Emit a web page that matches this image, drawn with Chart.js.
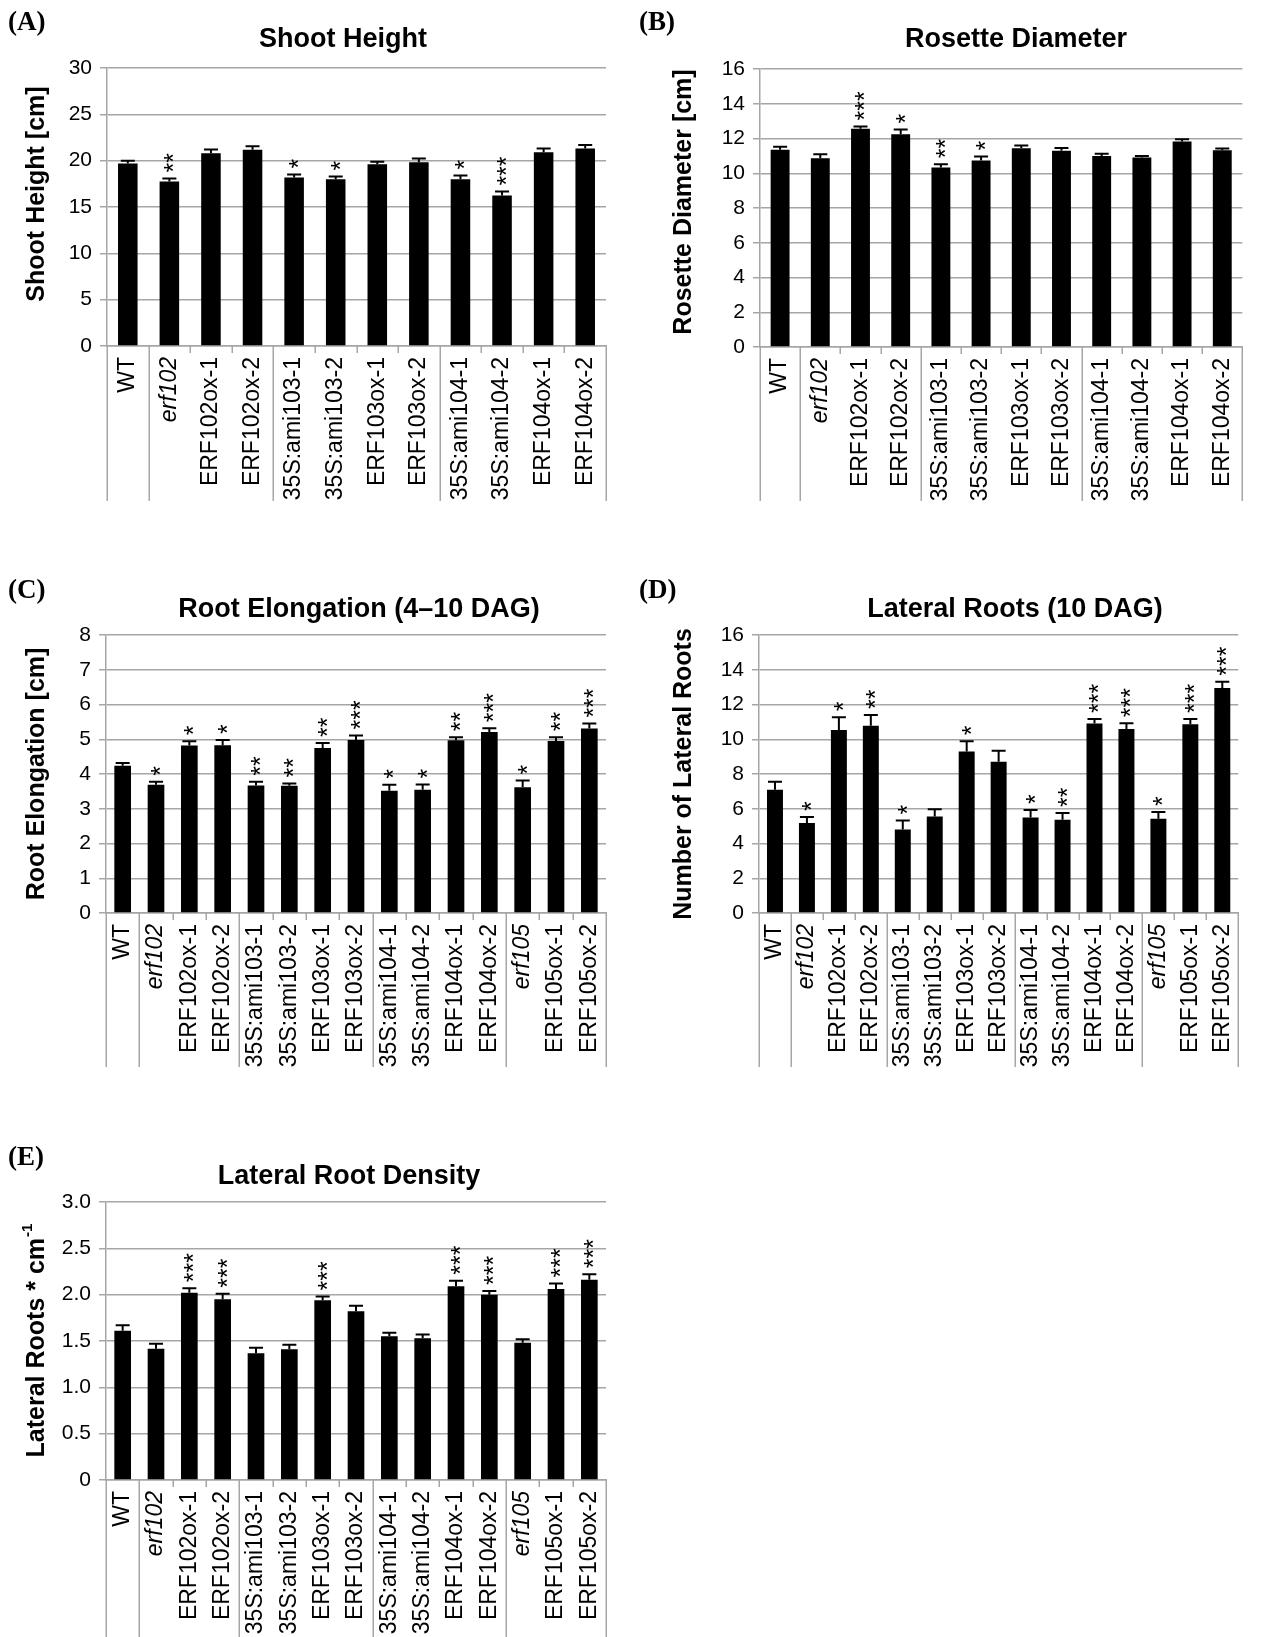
<!DOCTYPE html>
<html>
<head>
<meta charset="utf-8">
<script src="https://cdn.jsdelivr.net/npm/chart.js@4.4.1/dist/chart.umd.min.js"></script>
<style>
  html, body { margin: 0; padding: 0; background: #fff; }
  #page { position: relative; width: 1261px; height: 1637px; overflow: hidden; }
  canvas { position: absolute; }
</style>
</head>
<body>
<div id="page">
  <canvas id="chartA" width="630" height="510" style="left:0;top:0"></canvas>
  <canvas id="chartB" width="631" height="510" style="left:630px;top:0"></canvas>
  <canvas id="chartC" width="630" height="510" style="left:0;top:560px"></canvas>
  <canvas id="chartD" width="631" height="510" style="left:630px;top:560px"></canvas>
  <canvas id="chartE" width="630" height="507" style="left:0;top:1130px"></canvas>
</div>
<script>
// ============================================
// DATA
// ============================================

const lines12 = ['WT', 'erf102', 'ERF102ox-1', 'ERF102ox-2', '35S:ami103-1', '35S:ami103-2',
  'ERF103ox-1', 'ERF103ox-2', '35S:ami104-1', '35S:ami104-2', 'ERF104ox-1', 'ERF104ox-2'];
const lines15 = lines12.concat(['erf105', 'ERF105ox-1', 'ERF105ox-2']);
const italicLines = ['erf102', 'erf105'];

// (A) shoot height
const shootHeight = [19.7, 17.74, 20.8, 21.17, 18.17, 18.0, 19.6, 19.83, 18.0, 16.23, 20.9, 21.3];
const shootHeightErr = [0.3, 0.33, 0.4, 0.39, 0.33, 0.28, 0.27, 0.4, 0.39, 0.43, 0.4, 0.4];
const shootHeightSig = ['', '**', '', '', '*', '*', '', '', '*', '***', '', ''];
const shootTicks = [0, 5, 10, 15, 20, 25, 30];

// (B) rosette diameter
const rosette = [11.35, 10.87, 12.56, 12.25, 10.33, 10.73, 11.44, 11.3, 11.0, 10.9, 11.83, 11.33];
const rosetteErr = [0.17, 0.23, 0.13, 0.27, 0.19, 0.23, 0.16, 0.16, 0.12, 0.1, 0.13, 0.1];
const rosetteSig = ['', '', '***', '*', '**', '*', '', '', '', '', '', ''];
const rosetteTicks = [0, 2, 4, 6, 8, 10, 12, 14, 16];

// (C) root elongation
const rootElong = [4.24, 3.69, 4.82, 4.83, 3.67, 3.66, 4.75, 4.98, 3.52, 3.55, 4.97, 5.21, 3.62, 4.95, 5.31];
const rootElongErr = [0.08, 0.09, 0.12, 0.15, 0.11, 0.07, 0.14, 0.13, 0.17, 0.15, 0.09, 0.11, 0.19, 0.11, 0.14];
const rootElongSig = ['', '*', '*', '*', '**', '**', '**', '***', '*', '*', '**', '***', '*', '**', '***'];
const rootTicks = [0, 1, 2, 3, 4, 5, 6, 7, 8];

// (D) lateral roots
const lateralRoots = [7.1, 5.18, 10.53, 10.78, 4.8, 5.56, 9.3, 8.71, 5.5, 5.37, 10.9, 10.59, 5.43, 10.86, 12.95];
const lateralRootsErr = [0.45, 0.35, 0.73, 0.62, 0.53, 0.41, 0.58, 0.63, 0.43, 0.39, 0.27, 0.33, 0.38, 0.31, 0.36];
const lateralRootsSig = ['', '*', '*', '**', '*', '', '*', '', '*', '**', '***', '***', '*', '***', '***'];
const lateralTicks = [0, 2, 4, 6, 8, 10, 12, 14, 16];

// (E) lateral root density
const density = [1.61, 1.417, 2.02, 1.95, 1.367, 1.41, 1.94, 1.82, 1.55, 1.53, 2.09, 2.0, 1.48, 2.06, 2.16];
const densityErr = [0.06, 0.053, 0.05, 0.06, 0.06, 0.05, 0.04, 0.06, 0.04, 0.04, 0.06, 0.04, 0.04, 0.06, 0.06];
const densitySig = ['', '', '***', '***', '', '', '***', '', '', '', '***', '***', '', '***', '***'];
const densityTicks = [0, 0.5, 1.0, 1.5, 2.0, 2.5, 3.0];

// ============================================
// DRAWING HELPERS
// ============================================

const FONT = "'Liberation Sans', Arial, sans-serif";
const GRID = '#a6a6a6';

// error bars, stars, category separators, titles
const panelExtras = {
    id: 'panelExtras',
    afterDatasetsDraw(chart, args, o) {
        const ctx = chart.ctx;
        const y = chart.scales.y;
        const ds = chart.data.datasets[0];
        const meta = chart.getDatasetMeta(0);
        ctx.save();
        ctx.strokeStyle = '#000';
        ctx.fillStyle = '#000';
        ctx.lineWidth = 2;
        ctx.font = '25px ' + FONT;
        const m = ctx.measureText('*');
        const starShift = (m.actualBoundingBoxAscent - m.actualBoundingBoxDescent) / 2;
        meta.data.forEach((bar, i) => {
            const top = y.getPixelForValue(ds.data[i] + ds.errorBars[i]);
            ctx.beginPath();
            ctx.moveTo(bar.x, bar.y);
            ctx.lineTo(bar.x, top);
            ctx.moveTo(bar.x - 7, top);
            ctx.lineTo(bar.x + 7, top);
            ctx.stroke();
            const s = ds.stars[i];
            if (s) {
                ctx.save();
                ctx.translate(bar.x + starShift, top - 6);
                ctx.rotate(-Math.PI / 2);
                ctx.textAlign = 'left';
                ctx.textBaseline = 'alphabetic';
                ctx.fillText(s, 0, 0);
                ctx.restore();
            }
        });
        ctx.restore();
    },
    afterDraw(chart, args, o) {
        const ctx = chart.ctx;
        const a = chart.chartArea;
        const x = chart.scales.x;
        const n = chart.data.labels.length;
        ctx.save();

        // category separators (multi-level axis look)
        ctx.strokeStyle = GRID;
        ctx.lineWidth = 1.5;
        ctx.beginPath();
        for (let i = 0; i <= n; i++) {
            const px = Math.round(x.getPixelForValue(i - 0.5)) + 0.25;
            const long = o.groupEdges.includes(i);
            ctx.moveTo(px, a.bottom);
            ctx.lineTo(px, long ? o.lineBottom : a.bottom + 7);
        }
        ctx.stroke();

        ctx.fillStyle = '#000';

        // panel letter
        ctx.font = 'bold 27px "Liberation Serif", "Times New Roman", serif';
        ctx.textAlign = 'left';
        ctx.textBaseline = 'alphabetic';
        ctx.fillText(o.letter, o.letterX, o.letterY);

        // chart title
        ctx.font = 'bold 27px ' + FONT;
        ctx.textAlign = 'center';
        ctx.fillText(o.title, o.titleX, o.titleY);

        // y axis title, with optional superscript
        ctx.translate(o.yTitleX, (a.top + a.bottom) / 2 + o.yTitleShift);
        ctx.rotate(-Math.PI / 2);
        ctx.textAlign = 'left';
        ctx.textBaseline = 'middle';
        const mainFont = 'bold 25px ' + FONT;
        const supFont = 'bold 15px ' + FONT;
        ctx.font = mainFont;
        const w1 = ctx.measureText(o.yTitle).width;
        let w2 = 0;
        if (o.yTitleSup) {
            ctx.font = supFont;
            w2 = ctx.measureText(o.yTitleSup).width;
        }
        const start = -(w1 + w2) / 2;
        ctx.font = mainFont;
        ctx.fillText(o.yTitle, start, 0);
        if (o.yTitleSup) {
            ctx.font = supFont;
            ctx.fillText(o.yTitleSup, start + w1 + 1, -9);
        }
        ctx.restore();
    }
};

function makeChart(id, cfg) {
    const canvas = document.getElementById(id);
    const W = canvas.width, H = canvas.height;
    const box = cfg.box;
    return new Chart(canvas, {
        type: 'bar',
        data: {
            labels: cfg.labels,
            datasets: [{
                data: cfg.values,
                errorBars: cfg.errors,
                stars: cfg.sig,
                backgroundColor: '#000',
                borderWidth: 0,
                barPercentage: cfg.barPct,
                categoryPercentage: 1
            }]
        },
        options: {
            responsive: false,
            devicePixelRatio: 1,
            animation: false,
            layout: {
                padding: { top: box.top, right: W - box.right, left: 0, bottom: 0 }
            },
            plugins: {
                legend: { display: false },
                tooltip: { enabled: false },
                panelExtras: {
                    letter: cfg.letter, letterX: cfg.letterX, letterY: cfg.letterY,
                    title: cfg.title, titleX: cfg.titleX, titleY: cfg.titleY,
                    yTitle: cfg.yTitle, yTitleSup: cfg.yTitleSup || '', yTitleX: cfg.yTitleX,
                    yTitleShift: cfg.yTitleShift || 0,
                    groupEdges: cfg.groupEdges, lineBottom: cfg.lineBottom
                }
            },
            scales: {
                x: {
                    grid: { display: false, drawTicks: false },
                    border: { display: true, color: GRID, width: 1.5 },
                    ticks: {
                        autoSkip: false,
                        minRotation: 90,
                        maxRotation: 90,
                        padding: 11,
                        color: '#000',
                        font: (c) => ({
                            family: FONT,
                            size: 23,
                            style: italicLines.includes(cfg.labels[c.index]) ? 'italic' : 'normal'
                        })
                    },
                    afterFit: (s) => { s.height = H - box.bottom; }
                },
                y: {
                    min: cfg.ticks[0],
                    max: cfg.ticks[cfg.ticks.length - 1],
                    afterBuildTicks: (s) => { s.ticks = cfg.ticks.map(v => ({ value: v })); },
                    grid: { color: GRID, lineWidth: 1.5, tickLength: 7, drawTicks: true },
                    border: { display: true, color: GRID, width: 1.5 },
                    ticks: {
                        padding: 8,
                        color: '#000',
                        font: { family: FONT, size: 21 },
                        callback: cfg.tickFormat || ((v) => String(v))
                    },
                    afterFit: (s) => { s.width = box.left; }
                }
            }
        },
        plugins: [panelExtras]
    });
}

// ============================================
// PANELS
// ============================================

const edges12 = [0, 1, 4, 8, 12];
const edges15 = [0, 1, 4, 8, 12, 15];

makeChart('chartA', {
    labels: lines12, values: shootHeight, errors: shootHeightErr, sig: shootHeightSig,
    ticks: shootTicks, barPct: 0.47,
    box: { left: 107, top: 68, right: 606, bottom: 346 },
    letter: '(A)', letterX: 8, letterY: 30,
    title: 'Shoot Height', titleX: 343, titleY: 47,
    yTitle: 'Shoot Height [cm]', yTitleX: 37, yTitleShift: -13,
    groupEdges: edges12, lineBottom: 501
});

makeChart('chartB', {
    labels: lines12, values: rosette, errors: rosetteErr, sig: rosetteSig,
    ticks: rosetteTicks, barPct: 0.47,
    box: { left: 130, top: 69, right: 628, bottom: 347 },
    letter: '(B)', letterX: 9, letterY: 30,
    title: 'Rosette Diameter', titleX: 386, titleY: 47,
    yTitle: 'Rosette Diameter [cm]', yTitleX: 54, yTitleShift: -6,
    groupEdges: edges12, lineBottom: 501
});

makeChart('chartC', {
    labels: lines15, values: rootElong, errors: rootElongErr, sig: rootElongSig,
    ticks: rootTicks, barPct: 0.5,
    box: { left: 106, top: 75, right: 606, bottom: 353 },
    letter: '(C)', letterX: 8, letterY: 38,
    title: 'Root Elongation (4\u201310 DAG)', titleX: 359, titleY: 57,
    yTitle: 'Root Elongation [cm]', yTitleX: 37,
    groupEdges: edges15, lineBottom: 507
});

makeChart('chartD', {
    labels: lines15, values: lateralRoots, errors: lateralRootsErr, sig: lateralRootsSig,
    ticks: lateralTicks, barPct: 0.5,
    box: { left: 129, top: 75, right: 628, bottom: 353 },
    letter: '(D)', letterX: 9, letterY: 38,
    title: 'Lateral Roots (10 DAG)', titleX: 385, titleY: 57,
    yTitle: 'Number of Lateral Roots', yTitleX: 54,
    groupEdges: edges15, lineBottom: 507
});

makeChart('chartE', {
    labels: lines15, values: density, errors: densityErr, sig: densitySig,
    ticks: densityTicks, barPct: 0.5,
    tickFormat: (v) => (v === 0 ? '0' : v.toFixed(1)),
    box: { left: 106, top: 72, right: 606, bottom: 350 },
    letter: '(E)', letterX: 8, letterY: 35,
    title: 'Lateral Root Density', titleX: 349, titleY: 54,
    yTitle: 'Lateral Roots * cm', yTitleSup: '-1', yTitleX: 37,
    groupEdges: edges15, lineBottom: 507
});
</script>
</body>
</html>
